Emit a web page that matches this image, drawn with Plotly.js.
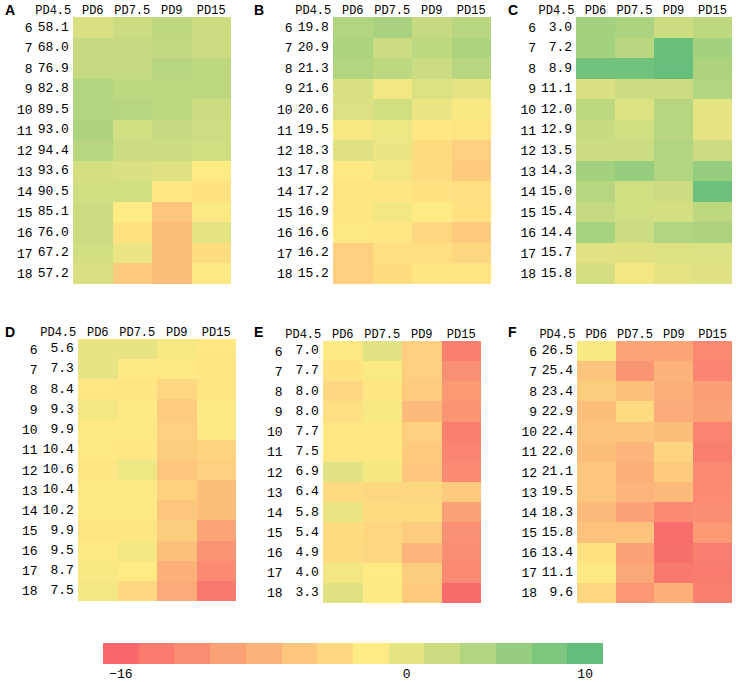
<!DOCTYPE html>
<html><head><meta charset="utf-8">
<script src="https://cdn.plot.ly/plotly-3.0.1.min.js"></script>
<style>html,body{margin:0;padding:0;background:#fff;}#chart{width:736px;height:682px;}</style>
</head><body><div id="chart"></div>
<script>
const rows = ['6','7','8','9','10','11','12','13','14','15','16','17','18'];
const cols = ['PD6','PD7.5','PD9','PD15'];
const baseCol = 'PD4.5';
const panelLetters = ['A','B','C','D','E','F'];

const A_base = [58.1,68.0,76.9,82.8,89.5,93.0,94.4,93.6,90.5,85.1,76.0,67.2,57.2];
const B_base = [19.8,20.9,21.3,21.6,20.6,19.5,18.3,17.8,17.2,16.9,16.6,16.2,15.2];
const C_base = [3.0,7.2,8.9,11.1,12.0,12.9,13.5,14.3,15.0,15.4,14.4,15.7,15.8];
const D_base = [5.6,7.3,8.4,9.3,9.9,10.4,10.6,10.4,10.2,9.9,9.5,8.7,7.5];
const E_base = [7.0,7.7,8.0,8.0,7.7,7.5,6.9,6.4,5.8,5.4,4.9,4.0,3.3];
const F_base = [26.5,25.4,23.4,22.9,22.4,22.0,21.1,19.5,18.3,15.8,13.4,11.1,9.6];

// estimated changes relative to PD4.5 (PD6, PD7.5, PD9, PD15)
const A_chg = [[1,2,3,2],[2.5,2.5,2.7,2],[2.5,2.5,3.5,3],[4,3,3,3],[4,3.5,3,2],[4.3,1.5,2.5,1.8],[3.5,2,2,1.5],[1.3,1,0.5,-2],[1.5,1.5,-2.4,-3],[2,-2,-6,-1.7],[2,-3,-7,0],[1.5,-0.5,-7,-3.5],[1,-5.5,-7,-2.2]];
const B_chg = [[4,4.7,2.5,3.5],[4.5,2,3,4.5],[4,3,2,3.5],[1,-1,0.7,0],[0.8,1.5,-0.5,-1.5],[-1.3,-0.7,-2.3,-2.8],[0.5,-0.5,-3.5,-5],[-2.2,-1,-3.7,-5.5],[-2.8,-2.5,-3,-3.2],[-2.5,-1,-2,-3],[-2.2,-2.4,-4,-5.5],[-5,-3.3,-3.3,-4],[-5,-3.5,-2.5,-2.8]];
const C_chg = [[5,4.5,2,3],[5,3.3,9.5,5],[9,9,9.7,4.3],[1,2,2,4],[3,0.7,3.5,0],[2.2,1.5,3.5,0],[2,2,4,2],[5,6,4,6],[3.5,1.5,2,9.3],[2.5,1.5,1.3,3],[4.8,2,4,4.3],[0.3,0.4,0.7,0.8],[1.3,-1,0,0.5]];
const D_chg = [[-0.2,-0.2,-1.3,-2.4],[-0.2,-2.2,-2.2,-2.8],[-2.4,-2.5,-4,-2.5],[-1,-2.2,-5.3,-2.2],[-2.2,-2.2,-5,-2.2],[-2.2,-2.4,-5.2,-4.5],[-2.6,-0.8,-6,-5],[-2.2,-2.2,-4.8,-7],[-2.2,-2.2,-6,-6.8],[-2.8,-2.5,-5.2,-9.5],[-2.2,-1,-6.5,-11.5],[-1.5,-2.1,-8.5,-12.5],[-1,-4,-9,-14.3]];
const E_chg = [[-1.7,0.3,-5,-13.5],[-3,-1.6,-5,-11.8],[-4,-2.5,-5.3,-10.8],[-3.3,-1.4,-7.2,-11.3],[-2.3,-2.3,-5,-13.5],[-2.3,-2.3,-5.4,-13],[0.2,-1.2,-5.8,-12.3],[-3.8,-4,-4,-5.5],[-0.5,-3.5,-3.7,-9.8],[-3.5,-4.2,-5.3,-11.8],[-3.7,-4,-7.8,-12.2],[-1,-2.1,-5.2,-12.5],[0.5,-2.2,-5.4,-15.7]];
const F_chg = [[-1.4,-9.5,-9.5,-12.6],[-6.2,-11.3,-8,-13],[-5.2,-6.5,-8.4,-10.3],[-7,-3.8,-8.8,-9.8],[-6.2,-6.2,-7,-13],[-7,-7.8,-4.5,-13.5],[-6,-8.5,-5.4,-12.6],[-6,-7.8,-7.2,-12.5],[-7.2,-9.8,-12.4,-12],[-6.3,-6.3,-15.5,-10.7],[-3,-9.8,-15.2,-13.7],[-2.2,-9.2,-14.3,-14],[-4,-11,-8.5,-13.5]];

const legendVals = [-16,-14,-12,-10,-8,-6,-4,-2,0,2,4,6,8,10];
const legendTicks = [-16,0,10];

const bases = [A_base,B_base,C_base,D_base,E_base,F_base];
const chgs = [A_chg,B_chg,C_chg,D_chg,E_chg,F_chg];

const W = 736, H = 682;
// panel boxes in pixels: [x0 (value column start), x1, y0, y1]
const boxes = [[33.5,231,17,284],[293.5,491,17,284],[537,732,17,284],[38.5,236,339,601],[283.5,481,341,603],[538,732,341,603]];
const letterPos = [[3,10],[252,10],[506,10],[3,332],[252,332],[506,332]];

const cs = [[0,'#F8696B'],[14/26,'#FFEB84'],[1,'#63BE7B']];
const mono = '"Liberation Mono", "DejaVu Sans Mono", monospace';

const data = [];
const layout = {width:W,height:H,margin:{l:0,r:0,t:0,b:0},paper_bgcolor:'#fff',plot_bgcolor:'rgba(0,0,0,0)',showlegend:false,annotations:[]};

for (let p=0;p<6;p++){
  const n = p+1;
  const xa = 'x'+(n===1?'':n), ya = 'y'+(n===1?'':n);
  data.push({type:'heatmap',x:cols,y:rows,z:chgs[p],colorscale:cs,zmin:-16,zmax:10,showscale:false,xaxis:xa,yaxis:ya,hoverinfo:'skip'});
  data.push({type:'scatter',mode:'text',x:rows.map(()=>baseCol),y:rows,
    text:bases[p].map(v=>v.toFixed(1).padStart(4,'\u00a0')),
    textfont:{family:mono,size:13,color:'#000'},textposition:'middle center',xaxis:xa,yaxis:ya,hoverinfo:'skip'});
  const b = boxes[p];
  layout['xaxis'+(n===1?'':n)] = {domain:[b[0]/W,b[1]/W],anchor:ya,type:'category',categoryorder:'array',categoryarray:[baseCol].concat(cols),
    range:[-0.5,4.5],side:'top',showgrid:false,zeroline:false,showline:false,ticks:'',fixedrange:true,
    tickfont:{family:mono,size:12,color:'#000'}};
  layout['yaxis'+(n===1?'':n)] = {domain:[1-b[3]/H,1-b[2]/H],anchor:xa,type:'category',categoryorder:'array',categoryarray:rows,
    range:[12.5,-0.5],showgrid:false,zeroline:false,showline:false,ticks:'',fixedrange:true,
    tickfont:{family:mono,size:13,color:'#000'}};
  layout.annotations.push({text:'<b>'+panelLetters[p]+'</b>',xref:'paper',yref:'paper',x:letterPos[p][0]/W,y:1-letterPos[p][1]/H,
    xanchor:'left',yanchor:'middle',showarrow:false,font:{family:'Liberation Sans, Arial, sans-serif',size:14,color:'#000'}});
}
// legend bar
data.push({type:'heatmap',x:legendVals,y:[0],z:[legendVals],colorscale:cs,zmin:-16,zmax:10,showscale:false,xaxis:'x7',yaxis:'y7',hoverinfo:'skip'});
layout.xaxis7 = {domain:[103/W,603/W],anchor:'y7',range:[-17,11],tickvals:legendTicks,ticktext:legendTicks.map(v=>v<0?'\u2212'+Math.abs(v):String(v)),
  showgrid:false,zeroline:false,showline:false,ticks:'',tickfont:{family:mono,size:13,color:'#000'}};
layout.yaxis7 = {domain:[1-664/H,1-643/H],anchor:'x7',range:[-0.5,0.5],showticklabels:false,showgrid:false,zeroline:false,showline:false,ticks:''};

Plotly.newPlot('chart',data,layout,{staticPlot:true,displayModeBar:false});
</script></body></html>
